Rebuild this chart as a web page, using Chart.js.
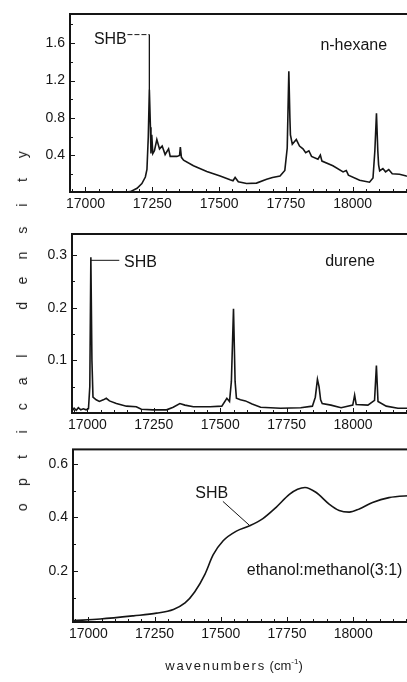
<!DOCTYPE html>
<html>
<head>
<meta charset="utf-8">
<script src="https://cdn.jsdelivr.net/npm/chart.js@4.4.1/dist/chart.umd.min.js"></script>
<style>
  html, body { margin: 0; padding: 0; background: #fff; overflow: hidden; }
  body { width: 407px; height: 682px; position: relative; font-family: "Liberation Sans", Arial, sans-serif; color: #1a1a1a; }
  .panel { position: absolute; left: 0; display: block; }
  #y-title { position: absolute; left: 22px; top: 331px; transform: translate(-50%, -50%) rotate(-90deg); display: flex; white-space: nowrap; font-size: 14px; }
  #y-title span { display: inline-block; width: 25.2px; text-align: center; }
  #x-title { position: absolute; left: 234px; top: 665px; transform: translate(-50%, -50%); font-size: 13px; white-space: nowrap; }
  #x-title .spaced { letter-spacing: 1.8px; }
  #x-title sup { font-size: 8px; }
</style>
</head>
<body>
<canvas id="hexane" class="panel" width="412" height="220" style="top:0px"></canvas>
<canvas id="durene" class="panel" width="412" height="221" style="top:220px"></canvas>
<canvas id="alcohol" class="panel" width="412" height="214" style="top:436px"></canvas>
<div id="y-title"></div>
<div id="x-title"><span class="spaced">wavenumbers</span> (cm<sup>-1</sup>)</div>
<script>
// wavenumber axis (cm-1)
const xTicks = [17000, 17250, 17500, 17750, 18000];

// n-hexane
const hexaneX = [16944, 17000, 17100, 17150, 17168, 17193, 17211, 17224, 17230, 17235, 17239, 17243, 17245, 17248, 17252,
  17258, 17267, 17277, 17287, 17298, 17311, 17317, 17342, 17352, 17355, 17359, 17367, 17404, 17454, 17504, 17541, 17552,
  17560, 17572, 17603, 17640, 17678, 17700, 17728, 17746, 17755, 17761, 17765, 17767, 17774, 17789, 17801, 17814, 17824,
  17836, 17846, 17870, 17879, 17885, 17926, 17964, 17976, 17984, 18026, 18063, 18076, 18083, 18089, 18094, 18097, 18101,
  18113, 18123, 18135, 18148, 18175, 18201, 18222];
const hexaneY = [0.01, 0.01, 0.008, 0.01, 0.014, 0.05, 0.10, 0.17, 0.25, 0.6, 1.10, 0.70, 0.42, 0.62, 0.42,
  0.45, 0.57, 0.47, 0.50, 0.41, 0.47, 0.39, 0.39, 0.40, 0.49, 0.38, 0.35, 0.29, 0.23, 0.18, 0.14, 0.13,
  0.165, 0.12, 0.10, 0.105, 0.145, 0.165, 0.18, 0.24, 0.48, 1.30, 0.80, 0.62, 0.52, 0.57, 0.50, 0.47, 0.43,
  0.45, 0.39, 0.36, 0.405, 0.34, 0.29, 0.225, 0.24, 0.19, 0.135, 0.115, 0.16, 0.45, 0.85, 0.45, 0.30, 0.235,
  0.26, 0.225, 0.25, 0.205, 0.20, 0.18, 0.175];
const hexaneTicks = [0.4, 0.8, 1.2, 1.6];
// SHB pointer: dashed leader, then a solid drop onto the burned line
const hexaneLeaderX = [17157, 17239];
const hexaneLeaderY = [1.69, 1.69];
const hexaneDropX = [17239, 17239];
const hexaneDropY = [1.69, 1.10];

// durene
const dureneX = [16942, 16950, 16958, 16966, 16975, 16985, 16995, 17004, 17009, 17013, 17017, 17021, 17033, 17045, 17060,
  17071, 17083, 17109, 17147, 17184, 17203, 17247, 17298, 17323, 17348, 17367, 17399, 17462, 17506, 17525, 17535, 17542,
  17550, 17556, 17561, 17576, 17595, 17620, 17652, 17727, 17803, 17847, 17858, 17866, 17872, 17878, 17884, 17917, 17955,
  17999, 18006, 18012, 18056, 18081, 18088, 18094, 18125, 18169, 18222];
const dureneY = [0.004, 0.009, 0.005, 0.010, 0.006, 0.008, 0.006, 0.008, 0.05, 0.296, 0.10, 0.03, 0.025, 0.022, 0.025,
  0.028, 0.023, 0.018, 0.013, 0.012, 0.007, 0.006, 0.006, 0.011, 0.018, 0.015, 0.012, 0.012, 0.013, 0.028, 0.022, 0.06,
  0.198, 0.06, 0.028, 0.025, 0.023, 0.017, 0.011, 0.009, 0.010, 0.013, 0.03, 0.064, 0.05, 0.025, 0.018, 0.015, 0.010,
  0.015, 0.034, 0.016, 0.015, 0.024, 0.09, 0.022, 0.013, 0.009, 0.009];
const dureneTicks = [0.1, 0.2, 0.3];
const dureneShbX = [17013, 17120];
const dureneShbY = [0.29, 0.29];

// ethanol:methanol (3:1) glass
const alcoholX = [16944, 17045, 17170, 17258, 17321, 17365, 17402, 17440, 17471, 17509, 17559, 17609, 17659, 17709,
  17759, 17790, 17818, 17859, 17909, 17947, 17985, 18023, 18073, 18135, 18222];
const alcoholY = [0.015, 0.021, 0.033, 0.043, 0.057, 0.081, 0.123, 0.188, 0.26, 0.313, 0.349, 0.369, 0.396, 0.438,
  0.486, 0.505, 0.512, 0.494, 0.45, 0.426, 0.42, 0.432, 0.456, 0.474, 0.482];
const alcoholTicks = [0.2, 0.4, 0.6];
const alcoholShbX = [17508, 17609];
const alcoholShbY = [0.46, 0.37];

const INK = '#151515';
const FONT = '"Liberation Sans", Arial, sans-serif';

const toPoints = (xs, ys) => xs.map((x, i) => ({ x, y: ys[i] }));

// frame, inward tick marks and text notes
const framePlugin = {
    id: 'frame',
    afterDatasetsDraw(chart, args, opts) {
        const { ctx, chartArea: a, scales: { x, y } } = chart;
        ctx.save();
        ctx.strokeStyle = INK;
        ctx.lineWidth = 1;
        ctx.beginPath();
        for (let v = xTicks[0] - 50; v <= x.max; v += 50) {
            const px = Math.round(x.getPixelForValue(v)) + 0.5;
            const len = xTicks.includes(v) ? 5 : 3;
            ctx.moveTo(px, a.bottom);
            ctx.lineTo(px, a.bottom - len);
        }
        const step = opts.yTicks[1] - opts.yTicks[0];
        for (let v = opts.yTicks[0] - step / 2; v <= y.max; v += step / 2) {
            if (v < y.min) continue;
            const py = Math.round(y.getPixelForValue(v)) + 0.5;
            const major = opts.yTicks.some(t => Math.abs(t - v) < 1e-6);
            ctx.moveTo(a.left, py);
            ctx.lineTo(a.left + (major ? 5 : 3), py);
        }
        ctx.stroke();

        ctx.lineWidth = 2;
        ctx.strokeRect(a.left, a.top, a.right - a.left, a.bottom - a.top);

        ctx.fillStyle = INK;
        ctx.textBaseline = 'middle';
        (opts.notes || []).forEach(n => {
            ctx.font = `${n.size || 16}px ${FONT}`;
            ctx.textAlign = n.align || 'center';
            ctx.fillText(n.text, x.getPixelForValue(n.x), y.getPixelForValue(n.y));
        });
        ctx.restore();
    }
};

function makePanel(id, cfg) {
    const ctx = document.getElementById(id);
    const datasets = [{
        data: cfg.points,
        borderColor: INK,
        borderWidth: 1.6,
        pointRadius: 0,
        tension: cfg.smooth ? 0.4 : 0,
        cubicInterpolationMode: cfg.smooth ? 'monotone' : 'default'
    }];
    cfg.markers.forEach(m => datasets.push({
        data: m.points,
        borderColor: INK,
        borderWidth: m.width || 1,
        borderDash: m.dash || [],
        pointRadius: 0,
        tension: 0
    }));

    return new Chart(ctx, {
        type: 'line',
        data: { datasets },
        options: {
            responsive: false,
            animation: false,
            devicePixelRatio: 1,
            layout: { padding: { top: cfg.padTop, right: 0, bottom: 0, left: 0 } },
            plugins: {
                legend: { display: false },
                tooltip: { enabled: false },
                frame: { yTicks: cfg.yTicks, notes: cfg.notes }
            },
            scales: {
                x: {
                    type: 'linear',
                    min: 16942,
                    max: 18222,
                    afterFit: s => { s.height = 28; },
                    afterBuildTicks: s => { s.ticks = xTicks.map(v => ({ value: v })); },
                    grid: { display: false, drawTicks: false },
                    border: { display: false },
                    ticks: {
                        padding: 4,
                        color: INK,
                        font: { family: FONT, size: 14 },
                        maxRotation: 0,
                        autoSkip: false,
                        callback: v => String(v)
                    }
                },
                y: {
                    min: cfg.yMin,
                    max: cfg.yMax,
                    afterFit: s => { s.width = cfg.left; },
                    afterBuildTicks: s => { s.ticks = cfg.yTicks.map(v => ({ value: v })); },
                    grid: { display: false, drawTicks: false },
                    border: { display: false },
                    ticks: {
                        padding: 5,
                        color: INK,
                        font: { family: FONT, size: 14 },
                        callback: v => v.toFixed(1)
                    }
                }
            }
        },
        plugins: [framePlugin]
    });
}

makePanel('hexane', {
    points: toPoints(hexaneX, hexaneY),
    markers: [
        { points: toPoints(hexaneLeaderX, hexaneLeaderY), dash: [5, 2] },
        { points: toPoints(hexaneDropX, hexaneDropY), width: 1.3 }
    ],
    yMin: 0.01, yMax: 1.91, yTicks: hexaneTicks,
    left: 70, padTop: 14,
    notes: [
        { text: 'SHB', x: 17093, y: 1.64 },
        { text: 'n-hexane', x: 18004, y: 1.57 }
    ]
});

makePanel('durene', {
    points: toPoints(dureneX, dureneY),
    markers: [{ points: toPoints(dureneShbX, dureneShbY) }],
    yMin: 0, yMax: 0.34, yTicks: dureneTicks,
    left: 72, padTop: 14,
    notes: [
        { text: 'SHB', x: 17138, y: 0.286, align: 'left' },
        { text: 'durene', x: 17989, y: 0.287 }
    ]
});

makePanel('alcohol', {
    points: toPoints(alcoholX, alcoholY),
    markers: [{ points: toPoints(alcoholShbX, alcoholShbY) }],
    smooth: true,
    yMin: 0.01, yMax: 0.654, yTicks: alcoholTicks,
    left: 73, padTop: 7,
    notes: [
        { text: 'SHB', x: 17466, y: 0.49 },
        { text: 'ethanol:methanol(3:1)', x: 17598, y: 0.2, align: 'left' }
    ]
});

// vertical axis caption, one evenly spaced slot per character
const yTitle = document.getElementById('y-title');
yTitle.innerHTML = 'optical density'.split('').map(c => `<span>${c === ' ' ? '&nbsp;' : c}</span>`).join('');
</script>
</body>
</html>
